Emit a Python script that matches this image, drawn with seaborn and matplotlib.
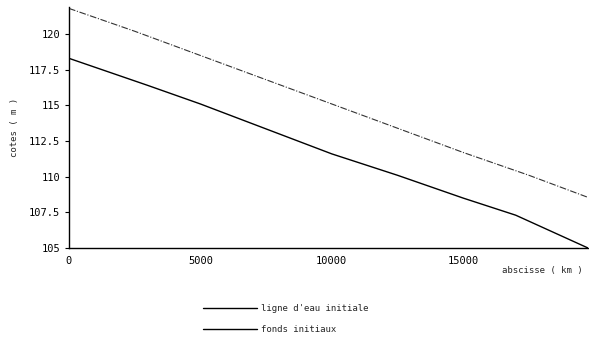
import matplotlib
matplotlib.use("Agg")
import matplotlib.pyplot as plt
import seaborn as sns
import pandas as pd
from matplotlib.lines import Line2D

sns.set_style("ticks")
plt.rcParams['font.family'] = ['DejaVu Sans Mono', 'DejaVu Sans']

# Data
water_x = [0, 2500, 5000, 7500, 10000, 12500, 15000, 17500, 19750]
water_y = [121.8, 120.2, 118.5, 116.8, 115.1, 113.4, 111.7, 110.1, 108.55]
bed_x = [0, 3000, 5000, 8000, 10000, 12500, 15000, 17000, 19750]
bed_y = [118.3, 116.4, 115.1, 113.0, 111.6, 110.1, 108.5, 107.3, 105.0]

series_names = ["ligne d'eau initiale", "fonds initiaux"]
yticks = [105, 107.5, 110, 112.5, 115, 117.5, 120]
ytick_labels = ["105", "107.5", "110", "112.5", "115", "117.5", "120"]
xticks = [0, 5000, 10000, 15000]

df_w = pd.DataFrame({"x": water_x, "y": water_y})
df_b = pd.DataFrame({"x": bed_x, "y": bed_y})

fig = plt.figure(figsize=(5.89, 3.42), dpi=100)
ax = fig.add_axes([69/589, 1-248/342, (588-69)/589, (248-7)/342])

sns.lineplot(data=df_w, x="x", y="y", ax=ax, color="#333333", lw=0.8,
             linestyle=(0, (6, 1.5, 1, 1.5)))
sns.lineplot(data=df_b, x="x", y="y", ax=ax, color="black", lw=1.0)

ax.set_xlim(0, 19750)
ax.set_ylim(105, 121.9)
ax.set_yticks(yticks)
ax.set_yticklabels(ytick_labels)
ax.set_xticks(xticks)
ax.tick_params(axis='both', labelsize=7.5, length=3, width=0.8, colors='black')
ax.tick_params(axis='x', length=0, pad=6)
sns.despine(ax=ax)
for s in ["left", "bottom"]:
    ax.spines[s].set_linewidth(1.0)
    ax.spines[s].set_color("black")
ax.set_xlabel("")
ax.set_ylabel("cotes ( m )", fontsize=6.5, labelpad=7)
fig.text(583/589, 1-271/342, "abscisse ( km )", ha="right", va="center", fontsize=6.5)

handles = [Line2D([], [], color="black", lw=1.0),
           Line2D([], [], color="black", lw=1.0)]
fig.legend(handles, series_names, loc="upper left",
           bbox_to_anchor=(203/589, 1-304/342), frameon=False, fontsize=6.5,
           handlelength=6.0, handletextpad=0.4, labelspacing=1.3,
           borderaxespad=0, borderpad=0)

fig.savefig("out.png", dpi=100)
